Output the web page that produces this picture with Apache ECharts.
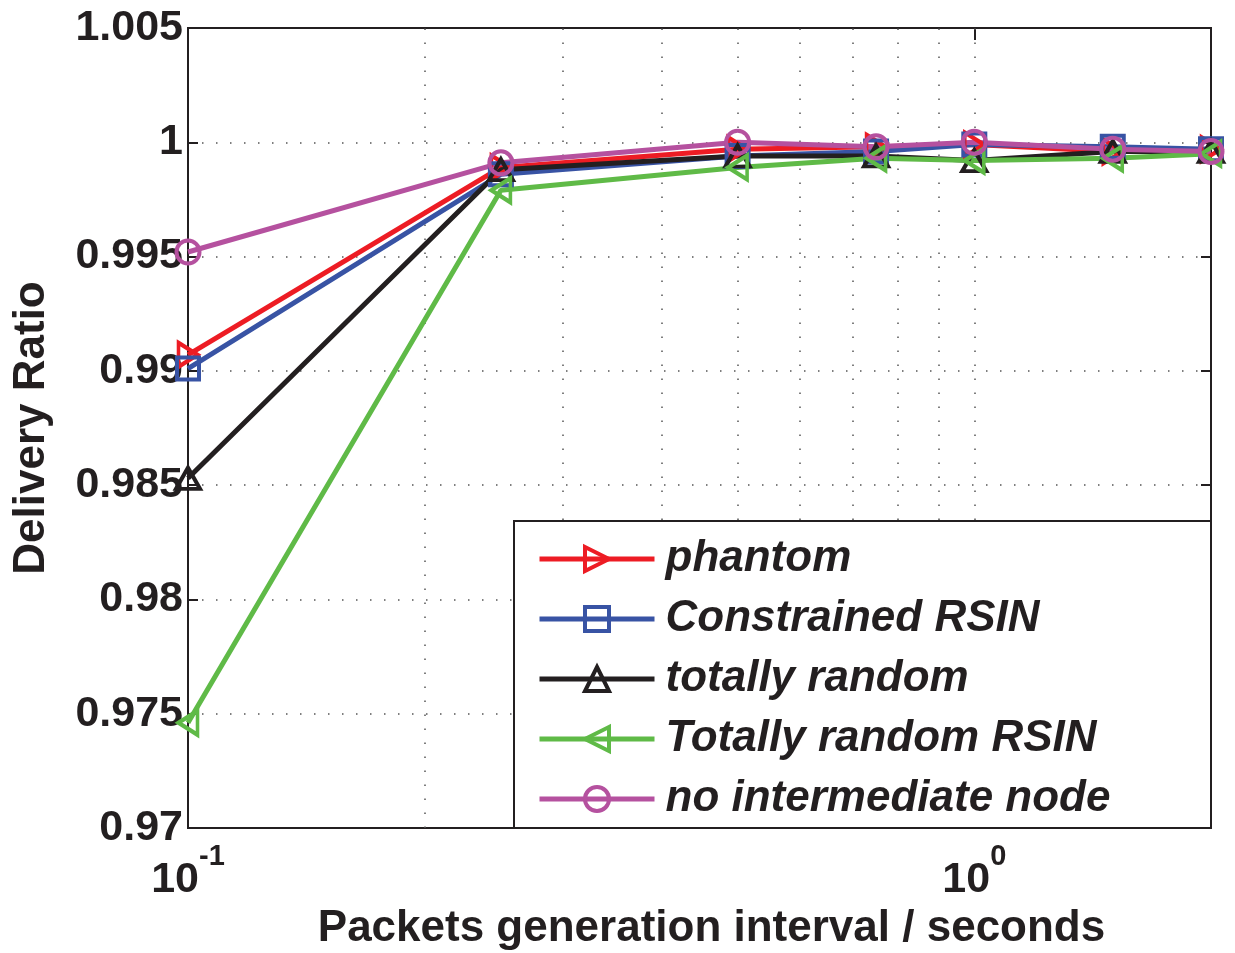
<!DOCTYPE html>
<html><head><meta charset="utf-8">
<script src="https://cdn.jsdelivr.net/npm/echarts@6/dist/echarts.min.js"></script>
<style>html,body{margin:0;padding:0;background:#fff;} #c{width:1235px;height:953px;}</style>
</head><body><div id="c"></div>
<script>
// ---- data ----
const xValues = [0.1, 0.25, 0.5, 0.75, 1, 1.5, 2];
const seriesNames = ['phantom', 'Constrained RSIN', 'totally random', 'Totally random RSIN', 'no intermediate node'];
const phantom           = [0.9907, 0.9989, 0.9997, 0.9998, 0.9999, 0.9996, 0.9997];
const constrainedRSIN   = [0.9901, 0.9986, 0.9994, 0.9996, 0.9999, 0.9998, 0.9997];
const totallyRandom     = [0.9853, 0.9988, 0.9994, 0.9994, 0.9992, 0.9996, 0.9996];
const totallyRandomRSIN = [0.9746, 0.9979, 0.9989, 0.9993, 0.9992, 0.9993, 0.9995];
const noIntermediate    = [0.9952, 0.9991, 1.0000, 0.9998, 1.0000, 0.9997, 0.9996];
const yMin = 0.97, yMax = 1.005, yStep = 0.005;
const xMin = 0.1, xMax = 2;
const xGridValues = [0.2, 0.3, 0.4, 0.5, 0.6, 0.7, 0.8, 0.9, 1];
const xAxisTitle = 'Packets generation interval / seconds';
const yAxisTitle = 'Delivery Ratio';

// ---- styles ----
const colors = ['#ed1c24', '#3853a4', '#231f20', '#5fba47', '#b5519f'];
const symbols = ['path://M0,0L10,5L0,10Z', 'rect', 'triangle', 'path://M10,0L0,5L10,10Z', 'circle'];
const symbolSizes = [[19, 24], [22, 22], [24, 21], [19, 24], [23, 23]];
const allValues = [phantom, constrainedRSIN, totallyRandom, totallyRandomRSIN, noIntermediate];
const FONT = 'Liberation Sans, Arial, Helvetica, sans-serif';
const ink = '#231f20';
const dotted = {color: '#555', width: 1.5, type: [1.5, 12.5]};

const series = seriesNames.map((name, i) => ({
  name: name,
  type: 'line',
  xAxisIndex: 0, yAxisIndex: 0,
  data: xValues.map((x, j) => [x, allValues[i][j]]),
  symbol: symbols[i],
  symbolSize: symbolSizes[i],
  showAllSymbol: true,
  clip: false,
  z: 3,
  color: colors[i],
  lineStyle: {color: colors[i], width: 5},
  itemStyle: {color: 'rgba(255,255,255,0)', borderColor: colors[i], borderWidth: 4},
  emphasis: {disabled: true},
  animation: false
}));
series.unshift({
  name: 'grid', type: 'line', data: [], z: 1, silent: true,
  markLine: {
    silent: true, symbol: 'none', z: 1, animation: false,
    label: {show: false},
    lineStyle: dotted,
    data: xGridValues.map(v => ({xAxis: v}))
  }
});

function xLabel(v) {
  const e = Math.log10(v);
  if (Math.abs(e - Math.round(e)) > 1e-6 || v > 1.0001 * xMax || Math.round(e) > 0) return '';
  return '{b|10}{s|' + Math.round(e) + '}';
}

const option = {
  backgroundColor: '#fff',
  animation: false,
  textStyle: {fontFamily: FONT},
  grid: {left: 188, right: 24, top: 28, bottom: 125, show: true, borderColor: ink, borderWidth: 2, backgroundColor: '#fff', containLabel: false, outerBoundsMode: 'none'},
  xAxis: [{
    type: 'log', logBase: 10, min: xMin, max: xMax, position: 'bottom',
    axisLine: {show: true, lineStyle: {color: ink, width: 2}},
    axisTick: {show: true, inside: true, length: 12, lineStyle: {color: ink, width: 2}},
    splitLine: {show: false},
    axisLabel: {
      margin: 14, color: ink, showMinLabel: true, showMaxLabel: true,
      formatter: xLabel,
      rich: {
        b: {fontSize: 43, fontWeight: 'bold', fontFamily: FONT, color: ink, lineHeight: 60, verticalAlign: 'bottom'},
        s: {fontSize: 29, fontWeight: 'bold', fontFamily: FONT, color: ink, lineHeight: 22, verticalAlign: 'top'}
      }
    },
    name: xAxisTitle, nameLocation: 'middle', nameGap: 74,
    nameTextStyle: {fontSize: 44, fontWeight: 'bold', color: ink, fontFamily: FONT, padding: [0, 0, 0, 24]}
  }, {
    type: 'log', logBase: 10, min: xMin, max: xMax, position: 'top',
    axisLine: {show: true, lineStyle: {color: ink, width: 2}},
    axisTick: {show: true, inside: true, length: 12, lineStyle: {color: ink, width: 2}},
    splitLine: {show: false}, axisLabel: {show: false}
  }],
  yAxis: [{
    type: 'value', min: yMin, max: yMax, interval: yStep, position: 'left',
    axisLine: {show: true, lineStyle: {color: ink, width: 2}},
    axisTick: {show: true, inside: true, length: 10, lineStyle: {color: ink, width: 2}},
    splitLine: {show: true, lineStyle: dotted},
    axisLabel: {
      margin: 5, color: ink, fontSize: 43, fontWeight: 'bold', fontFamily: FONT,
      showMinLabel: true, showMaxLabel: true,
      formatter: v => String(parseFloat(v.toFixed(3)))
    },
    name: yAxisTitle, nameLocation: 'middle', nameGap: 134,
    nameTextStyle: {fontSize: 44, fontWeight: 'bold', color: ink, fontFamily: FONT}
  }, {
    type: 'value', min: yMin, max: yMax, interval: yStep, position: 'right',
    axisLine: {show: true, lineStyle: {color: ink, width: 2}},
    axisTick: {show: true, inside: true, length: 10, lineStyle: {color: ink, width: 2}},
    splitLine: {show: false}, axisLabel: {show: false}
  }],
  legend: {
    data: seriesNames,
    orient: 'vertical', left: 537, top: 537, padding: 0,
    itemWidth: 115, itemHeight: 30, itemGap: 16,
    selectedMode: false,
    itemStyle: {borderWidth: 4},
    lineStyle: {width: 5},
    textStyle: {fontSize: 44, fontWeight: 'bold', fontStyle: 'italic', color: ink, fontFamily: FONT, lineHeight: 40, padding: [0, 0, 0, 6]},
    z: 10
  },
  graphic: [{
    type: 'rect', z: 8, silent: true,
    shape: {x: 514, y: 521, width: 697, height: 307},
    style: {fill: '#fff', stroke: ink, lineWidth: 2}
  }],
  series: series
};
const chart = echarts.init(document.getElementById('c'), null, {renderer: 'canvas'});
chart.setOption(option);
</script>
</body></html>
